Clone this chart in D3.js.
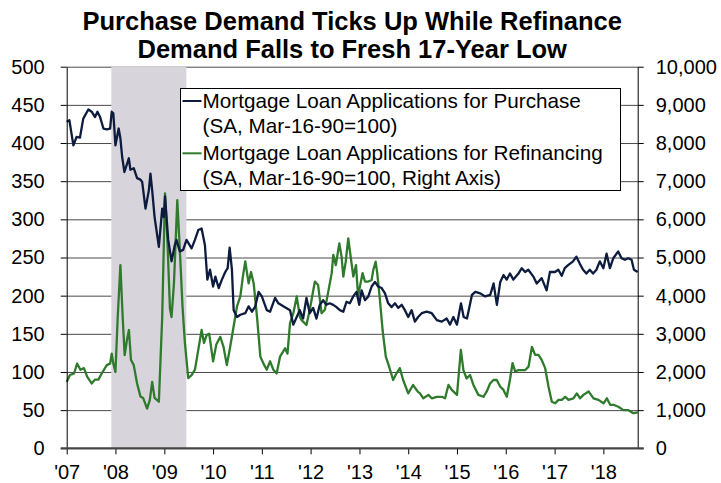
<!DOCTYPE html>
<html>
<head>
<meta charset="utf-8">
<script src="https://cdn.jsdelivr.net/npm/d3@7"></script>
<style>
  body { margin: 0; background: #fff; }
  svg text { font-family: "Liberation Sans", Arial, sans-serif; fill: #000; }
  .title { font-weight: bold; font-size: 25.5px; }
  .tick text { font-size: 20px; }
  .legend text { font-size: 20.7px; }
</style>
</head>
<body>
<div class="chart"></div>
<script>
// chart values
// ==========================================================================
var titleLines = ["Purchase Demand Ticks Up While Refinance", "Demand Falls to Fresh 17-Year Low"];

var legendLabels = [
  ["Mortgage Loan Applications for Purchase", "(SA, Mar-16-90=100)"],
  ["Mortgage Loan Applications for Refinancing", "(SA, Mar-16-90=100, Right Axis)"]
];

var leftTicks = [0, 50, 100, 150, 200, 250, 300, 350, 400, 450, 500];
var rightTicks = [0, 1000, 2000, 3000, 4000, 5000, 6000, 7000, 8000, 9000, 10000];
var xTicks = ["2007", "2008", "2009", "2010", "2011", "2012", "2013", "2014", "2015", "2016", "2017", "2018"];

var dateRange = ["2007-01-01", "2018-09-15"];
var recession = ["2007-12-01", "2009-06-15"];

var purchaseDates = [
  "2007-01-01", "2007-01-21", "2007-02-20", "2007-03-16", "2007-04-10", "2007-05-05", "2007-06-12", "2007-07-07",
  "2007-08-01", "2007-08-19", "2007-09-08", "2007-10-03", "2007-10-28", "2007-11-22", "2007-12-04", "2007-12-16",
  "2008-01-01", "2008-01-25", "2008-02-07", "2008-02-20", "2008-03-08", "2008-04-10", "2008-04-22", "2008-05-17",
  "2008-06-11", "2008-07-06", "2008-07-19", "2008-08-13", "2008-09-07", "2008-09-19", "2008-10-02", "2008-10-20",
  "2008-11-21", "2008-12-16", "2008-12-28", "2009-01-06", "2009-01-30", "2009-02-24", "2009-03-20", "2009-04-02",
  "2009-04-27", "2009-05-22", "2009-06-16", "2009-07-24", "2009-08-18", "2009-09-12", "2009-10-07", "2009-11-01",
  "2009-11-19", "2009-12-09", "2010-01-01", "2010-01-18", "2010-02-12", "2010-03-08", "2010-04-02", "2010-04-20",
  "2010-05-05", "2010-05-22", "2010-06-04", "2010-06-29", "2010-07-24", "2010-08-30", "2010-09-24", "2010-10-19",
  "2010-11-13", "2010-12-08", "2011-01-01", "2011-02-07", "2011-03-04", "2011-04-10", "2011-05-05", "2011-06-11",
  "2011-07-31", "2011-08-25", "2011-09-19", "2011-10-12", "2011-11-06", "2011-12-01", "2011-12-26", "2012-01-20",
  "2012-02-14", "2012-03-10", "2012-04-04", "2012-04-28", "2012-05-23", "2012-06-19", "2012-07-13", "2012-08-07",
  "2012-09-02", "2012-09-26", "2012-10-21", "2012-11-15", "2012-12-10", "2012-12-30", "2013-01-17", "2013-02-11",
  "2013-03-08", "2013-04-02", "2013-04-27", "2013-05-21", "2013-06-16", "2013-07-11", "2013-08-04", "2013-08-30",
  "2013-09-24", "2013-10-18", "2013-11-13", "2013-12-07", "2014-01-01", "2014-01-26", "2014-02-20", "2014-03-16",
  "2014-04-12", "2014-05-19", "2014-06-26", "2014-08-03", "2014-09-09", "2014-10-16", "2014-11-10", "2014-12-05",
  "2015-01-01", "2015-01-31", "2015-02-20", "2015-03-17", "2015-04-23", "2015-05-18", "2015-06-24", "2015-07-31",
  "2015-09-07", "2015-10-02", "2015-10-27", "2015-11-21", "2015-12-16", "2016-01-08", "2016-02-02", "2016-02-27",
  "2016-04-05", "2016-04-30", "2016-05-25", "2016-06-18", "2016-07-26", "2016-08-20", "2016-09-26", "2016-11-02",
  "2016-11-27", "2017-01-04", "2017-01-29", "2017-02-23", "2017-03-18", "2017-04-12", "2017-05-19", "2017-06-13",
  "2017-07-08", "2017-08-02", "2017-08-27", "2017-09-21", "2017-10-16", "2017-11-10", "2017-12-05", "2018-01-01",
  "2018-01-25", "2018-02-19", "2018-03-16", "2018-04-22", "2018-05-17", "2018-06-11", "2018-07-06", "2018-07-31",
  "2018-08-18", "2018-09-15"
];
var purchaseValues = [
  428, 430, 397, 408, 407, 432, 444, 441,
  434, 441, 434, 419, 418, 419, 441, 439,
  397, 419, 406, 382, 362, 380, 365, 367,
  354, 352, 349, 314, 338, 360, 338, 303,
  264, 314, 303, 330, 273, 245, 266, 273,
  258, 260, 273, 262, 273, 286, 288, 266,
  221, 234, 212, 225, 210, 221, 231, 236,
  263, 234, 181, 172, 175, 177, 186, 179,
  186, 205, 199, 181, 179, 197, 190, 186,
  181, 162, 172, 181, 170, 197, 177, 184,
  170, 188, 194, 188, 190, 188, 185, 181,
  179, 192, 190, 199, 205, 188, 207, 194,
  199, 212, 218, 212, 210, 203, 190, 185,
  190, 184, 188, 181, 172, 181, 166, 172,
  177, 179, 177, 168, 166, 170, 162, 172,
  162, 190, 172, 170, 201, 205, 203, 199,
  201, 216, 188, 218, 227, 221, 229, 221,
  229, 236, 231, 234, 225, 216, 223, 207,
  231, 231, 234, 226, 236, 240, 245, 251,
  242, 234, 229, 234, 229, 234, 245, 236,
  255, 236, 249, 258, 249, 247, 249, 247,
  234, 231
];

var refiDates = [
  "2007-01-01", "2007-01-25", "2007-02-25", "2007-03-20", "2007-04-14", "2007-05-10", "2007-06-03", "2007-07-07",
  "2007-08-01", "2007-08-26", "2007-09-20", "2007-10-28", "2007-11-22", "2007-12-04", "2007-12-16", "2008-01-01",
  "2008-01-18", "2008-02-07", "2008-02-24", "2008-03-10", "2008-03-27", "2008-04-11", "2008-04-26", "2008-05-17",
  "2008-06-11", "2008-07-06", "2008-07-26", "2008-08-25", "2008-09-14", "2008-10-02", "2008-10-20", "2008-11-21",
  "2008-12-16", "2009-01-06", "2009-01-23", "2009-02-12", "2009-02-24", "2009-03-14", "2009-04-08", "2009-04-27",
  "2009-05-17", "2009-06-04", "2009-06-29", "2009-07-24", "2009-08-18", "2009-09-12", "2009-10-07", "2009-10-25",
  "2009-11-13", "2009-12-03", "2010-01-01", "2010-01-25", "2010-02-24", "2010-03-20", "2010-04-14", "2010-05-09",
  "2010-06-04", "2010-06-29", "2010-07-24", "2010-08-12", "2010-08-30", "2010-09-24", "2010-10-12", "2010-11-01",
  "2010-11-26", "2010-12-21", "2011-01-13", "2011-02-07", "2011-03-04", "2011-03-28", "2011-04-22", "2011-05-17",
  "2011-06-24", "2011-07-12", "2011-07-31", "2011-08-25", "2011-09-19", "2011-10-13", "2011-10-26", "2011-12-01",
  "2011-12-26", "2012-02-02", "2012-02-26", "2012-03-23", "2012-04-17", "2012-05-12", "2012-06-07", "2012-06-19",
  "2012-07-08", "2012-08-03", "2012-08-20", "2012-09-02", "2012-09-20", "2012-10-09", "2012-10-27", "2012-11-16",
  "2012-12-06", "2012-12-22", "2013-01-04", "2013-01-24", "2013-02-11", "2013-03-08", "2013-04-02", "2013-04-14",
  "2013-05-02", "2013-05-14", "2013-06-03", "2013-06-23", "2013-07-17", "2013-08-11", "2013-09-10", "2013-10-05",
  "2013-10-30", "2013-11-24", "2014-01-01", "2014-02-06", "2014-03-15", "2014-03-30", "2014-04-24", "2014-06-01",
  "2014-06-26", "2014-08-03", "2014-09-09", "2014-10-04", "2014-10-29", "2014-11-23", "2015-01-01", "2015-01-30",
  "2015-02-18", "2015-03-14", "2015-04-09", "2015-05-04", "2015-06-10", "2015-07-18", "2015-08-12", "2015-09-06",
  "2015-10-01", "2015-10-26", "2015-11-20", "2015-12-15", "2016-01-09", "2016-02-03", "2016-02-21", "2016-03-12",
  "2016-04-06", "2016-05-01", "2016-05-26", "2016-06-20", "2016-07-15", "2016-08-08", "2016-09-02", "2016-09-27",
  "2016-10-22", "2016-11-16", "2016-12-11", "2017-01-05", "2017-01-30", "2017-02-24", "2017-03-21", "2017-04-15",
  "2017-05-22", "2017-06-16", "2017-07-11", "2017-08-05", "2017-09-12", "2017-10-19", "2017-11-25", "2018-01-02",
  "2018-01-27", "2018-02-21", "2018-03-17", "2018-04-23", "2018-05-31", "2018-07-07", "2018-08-14", "2018-09-15"
];
var refiValues = [
  1740, 1920, 1960, 2220, 2060, 2100, 1880, 1700,
  1800, 1800, 1960, 2180, 2220, 2480, 2220, 2000,
  3440, 4800, 3440, 2440, 2840, 3100, 2320, 2180,
  1700, 1360, 1320, 1040, 1260, 1740, 1320, 1220,
  3440, 6680, 5540, 3660, 3440, 4320, 6500, 5200,
  3720, 2760, 1840, 1920, 2060, 2580, 3100, 2760,
  2960, 3000, 2280, 2720, 2920, 2660, 2180, 2660,
  3200, 3720, 3980, 4500, 4900, 4320, 4620, 4320,
  3440, 2400, 2220, 2060, 2280, 2060, 1960, 2400,
  2620, 2480, 3280, 3540, 3980, 3440, 3360, 3230,
  3630, 4370, 4280, 3540, 3630, 4100, 4590, 5070,
  4800, 5370, 5020, 4500, 4890, 5500, 5020, 4500,
  4800, 3970, 4230, 4590, 4370, 4370, 4410, 4670,
  4890, 4590, 3890, 3100, 2400, 2140, 1790, 1965,
  2100, 1790, 1440, 1660, 1480, 1440, 1310, 1400,
  1310, 1350, 1350, 1310, 1660, 1530, 1400, 2580,
  2050, 1830, 1920, 1660, 1400, 1350, 1490, 1700,
  1790, 1790, 1620, 1530, 1350, 1830, 2230, 2010,
  2050, 2050, 2050, 2140, 2660, 2450, 2450, 2310,
  2100, 1620, 1220, 1180, 1270, 1270, 1350, 1270,
  1310, 1440, 1310, 1400, 1490, 1310, 1270, 1180,
  1310, 1140, 1140, 1090, 1000, 1000, 920, 940
];

// set up chart configurations
// ==========================================================================
var svgWidth = 721;
var svgHeight = 483;

var margin = { top: 66.7, right: 83.3, bottom: 34.7, left: 66.7 };
var width = svgWidth - margin.left - margin.right;
var height = svgHeight - margin.top - margin.bottom;

var purchaseColor = "#0d1b3e";
var refiColor = "#2f7a2c";

var parseDate = d3.timeParse("%Y-%m-%d");

var purchaseData = purchaseDates.map((d, i) => ({ date: parseDate(d), value: purchaseValues[i] }));
var refiData = refiDates.map((d, i) => ({ date: parseDate(d), value: refiValues[i] }));

var svg = d3.select(".chart")
  .append("svg")
  .attr("width", svgWidth)
  .attr("height", svgHeight);

var chartGroup = svg.append("g")
  .attr("transform", `translate(${margin.left}, ${margin.top})`);

// scales
var xScale = d3.scaleTime()
  .domain(dateRange.map(parseDate))
  .range([0, width]);

var yLeft = d3.scaleLinear().domain([0, 500]).range([height, 0]);
var yRight = d3.scaleLinear().domain([0, 10000]).range([height, 0]);

// gridlines (drawn first, the band and legend sit on top)
chartGroup.append("g")
  .attr("class", "grid")
  .call(d3.axisLeft(yLeft).tickValues(leftTicks).tickSize(-width).tickFormat(""))
  .call(g => g.select(".domain").remove())
  .call(g => g.selectAll("line").attr("stroke", "#4a4a4a").attr("stroke-width", 1));

// recession band
chartGroup.append("rect")
  .attr("x", xScale(parseDate(recession[0])))
  .attr("y", 0)
  .attr("width", xScale(parseDate(recession[1])) - xScale(parseDate(recession[0])))
  .attr("height", height)
  .attr("fill", "#d7d5db");

// lines
var purchaseLine = d3.line()
  .x(d => xScale(d.date))
  .y(d => yLeft(d.value));

var refiLine = d3.line()
  .x(d => xScale(d.date))
  .y(d => yRight(d.value));

chartGroup.append("path")
  .datum(refiData)
  .attr("d", refiLine)
  .attr("fill", "none")
  .attr("stroke", refiColor)
  .attr("stroke-width", 2.3)
  .attr("stroke-linejoin", "round");

chartGroup.append("path")
  .datum(purchaseData)
  .attr("d", purchaseLine)
  .attr("fill", "none")
  .attr("stroke", purchaseColor)
  .attr("stroke-width", 2.3)
  .attr("stroke-linejoin", "round");

// left axis
chartGroup.append("g")
  .call(d3.axisLeft(yLeft).tickValues(leftTicks).tickSize(6).tickSizeOuter(0).tickPadding(16))
  .call(g => g.selectAll("line, .domain").attr("stroke", "#000"));

// right axis
chartGroup.append("g")
  .attr("transform", `translate(${width}, 0)`)
  .call(d3.axisRight(yRight).tickValues(rightTicks).tickSize(6).tickSizeOuter(0)
    .tickPadding(12).tickFormat(d3.format(",")))
  .call(g => g.selectAll("line, .domain").attr("stroke", "#000"));

// bottom axis
var xAxis = chartGroup.append("g")
  .attr("transform", `translate(0, ${height})`)
  .call(d3.axisBottom(xScale)
    .tickValues(xTicks.map(y => parseDate(y + "-01-01")))
    .tickFormat(d3.timeFormat("'%y"))
    .tickSize(6).tickSizeOuter(0).tickPadding(11));

xAxis.select(".domain").remove();
xAxis.selectAll("line").attr("stroke", "#000");
xAxis.append("line")
  .attr("x1", -6)
  .attr("x2", width + 6)
  .attr("y1", 0)
  .attr("y2", 0)
  .attr("stroke", "#444")
  .attr("stroke-width", 2);

// legend
var legend = svg.append("g")
  .attr("class", "legend")
  .attr("transform", "translate(180.5, 88.5)");

legend.append("rect")
  .attr("width", 440)
  .attr("height", 102)
  .attr("fill", "#fff")
  .attr("stroke", "#000")
  .attr("stroke-width", 1);

[purchaseColor, refiColor].forEach(function(color, i) {
  var top = i * 52.3;
  legend.append("line")
    .attr("x1", 2)
    .attr("x2", 21)
    .attr("y1", top + 12.5)
    .attr("y2", top + 12.5)
    .attr("stroke", color)
    .attr("stroke-width", 2);

  legend.selectAll(null)
    .data(legendLabels[i])
    .enter()
    .append("text")
    .attr("x", 22)
    .attr("y", (d, j) => top + 19.2 + j * 25.2)
    .text(d => d);
});

// title
svg.selectAll(".title")
  .data(titleLines)
  .enter()
  .append("text")
  .attr("class", "title")
  .attr("x", margin.left + width / 2)
  .attr("y", (d, i) => 29.5 + i * 28)
  .attr("text-anchor", "middle")
  .text(d => d);
</script>
</body>
</html>
